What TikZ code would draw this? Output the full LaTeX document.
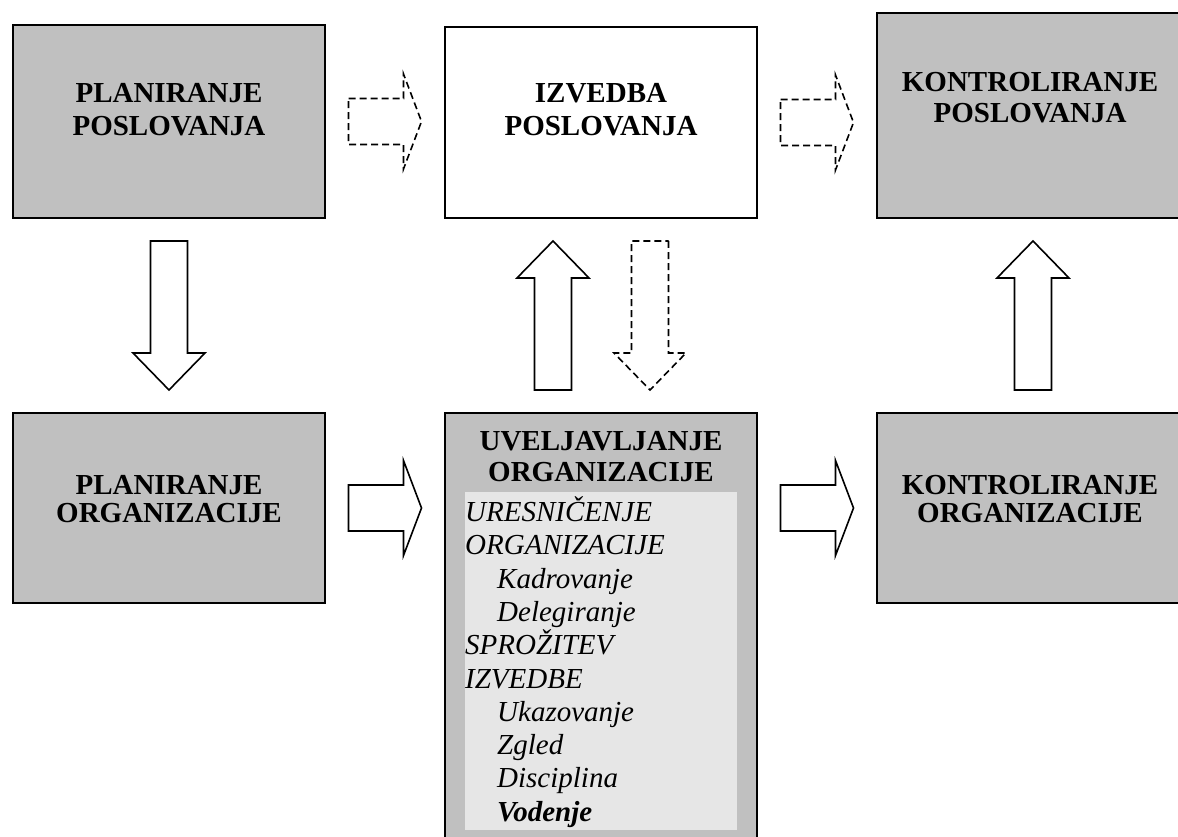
\documentclass[tikz,border=0pt]{standalone}
\usepackage{fontspec}
\setmainfont{Liberation Serif}
\usetikzlibrary{calc}
\definecolor{boxgray}{RGB}{192,192,192}
\definecolor{innergray}{RGB}{230,230,230}
\begin{document}
\begin{tikzpicture}[x=1pt,y=-1pt,
  box/.style={draw=black, line width=2pt, inner sep=0pt, minimum width=312pt},
  graybox/.style={box, fill=boxgray},
  whitebox/.style={box, fill=white},
  hd/.style={font=\fontsize{29}{33}\selectfont\bfseries, anchor=base, inner sep=0pt},
  itl/.style={font=\fontsize{29}{33}\selectfont\itshape, anchor=base west, inner sep=0pt},
  barrow/.style={draw=black, line width=1.6pt, fill=white, line join=miter},
  darrow/.style={barrow, dash pattern=on 7pt off 4pt},
  harrow/.pic={\path[pic actions] (-36.5,-23) -- (18.5,-23) -- (18.5,-47.5) -- (36.5,0)
      -- (18.5,47.5) -- (18.5,23) -- (-36.5,23) -- cycle;},
  uparrow/.pic={\path[pic actions] (-18.5,74.5) -- (-18.5,-37.5) -- (-36,-37.5) -- (0,-74.5)
      -- (36,-37.5) -- (18.5,-37.5) -- (18.5,74.5) -- cycle;}]
\useasboundingbox (0,0) rectangle (1178,837);
\clip (0,0) rectangle (1178,837);
\fill[white] (0,0) rectangle (1178,837);

% boxes
\node[graybox, minimum height=193pt] (tl) at (169,121.5) {};
\node[whitebox, minimum height=191pt] (tm) at (601,122.5) {};
\node[graybox, minimum height=205pt] (tr) at (1033,115.5) {};
\node[graybox, minimum height=190pt] (bl) at (169,508) {};
\node[graybox, minimum height=427pt] (bm) at (601,626.5) {};
\node[graybox, minimum height=190pt] (br) at (1033,508) {};
\node[fill=innergray, inner sep=0pt, minimum width=272pt, minimum height=338pt,
      anchor=north west] (inner) at (465,492) {};

% box titles
\node[hd] (tl1) at (169,102.5) {PLANIRANJE};
\node[hd] (tl2) at (169,135.5) {POSLOVANJA};
\node[hd] (tm1) at (601,102.5) {IZVEDBA};
\node[hd] (tm2) at (601,135.5) {POSLOVANJA};
\node[hd] (tr1) at (1030,91.5) {KONTROLIRANJE};
\node[hd] (tr2) at (1030,122.5) {POSLOVANJA};
\node[hd] (bl1) at (169,494) {PLANIRANJE};
\node[hd] (bl2) at (169,522) {ORGANIZACIJE};
\node[hd] (bm1) at (601,450) {UVELJAVLJANJE};
\node[hd] (bm2) at (601,481) {ORGANIZACIJE};
\node[hd] (br1) at (1030,494) {KONTROLIRANJE};
\node[hd] (br2) at (1030,522) {ORGANIZACIJE};

% list in the middle box
\node[itl] (l1) at (465,521.5) {URESNIČENJE};
\node[itl] (l2) at (465,554.8) {ORGANIZACIJE};
\node[itl] (l3) at (497,588.1) {Kadrovanje};
\node[itl] (l4) at (497,621.4) {Delegiranje};
\node[itl] (l5) at (465,654.7) {SPROŽITEV};
\node[itl] (l6) at (465,688.0) {IZVEDBE};
\node[itl] (l7) at (497,721.3) {Ukazovanje};
\node[itl] (l8) at (497,754.6) {Zgled};
\node[itl] (l9) at (497,787.9) {Disciplina};
\node[itl, font=\fontsize{29}{33}\selectfont\bfseries\itshape] (l10) at (497,821.2) {Vodenje};

% block arrows
\pic[darrow] at ($(tl.east)!0.5!(tl.east -| tm.west)$) {harrow};
\pic[darrow] at ($(tm.east)!0.5!(tm.east -| tr.west)$) {harrow};
\pic[barrow] at ($(bl.east)!0.5!(bl.east -| bm.west)$) {harrow};
\pic[barrow] at ($(bm.east |- br.west)!0.5!(br.west)$) {harrow};
\pic[barrow, rotate=180] at ($(tl.south)!0.5!(bl.north)$) {uparrow};
\pic[barrow] at ($($(tm.south)!0.5!(bm.north)$)+(-48,0)$) {uparrow};
\pic[darrow, rotate=180] at ($($(tm.south)!0.5!(bm.north)$)+(49,0)$) {uparrow};
\pic[barrow] at ($(tr.south)!0.5!(br.north)$) {uparrow};
\end{tikzpicture}
\end{document}
